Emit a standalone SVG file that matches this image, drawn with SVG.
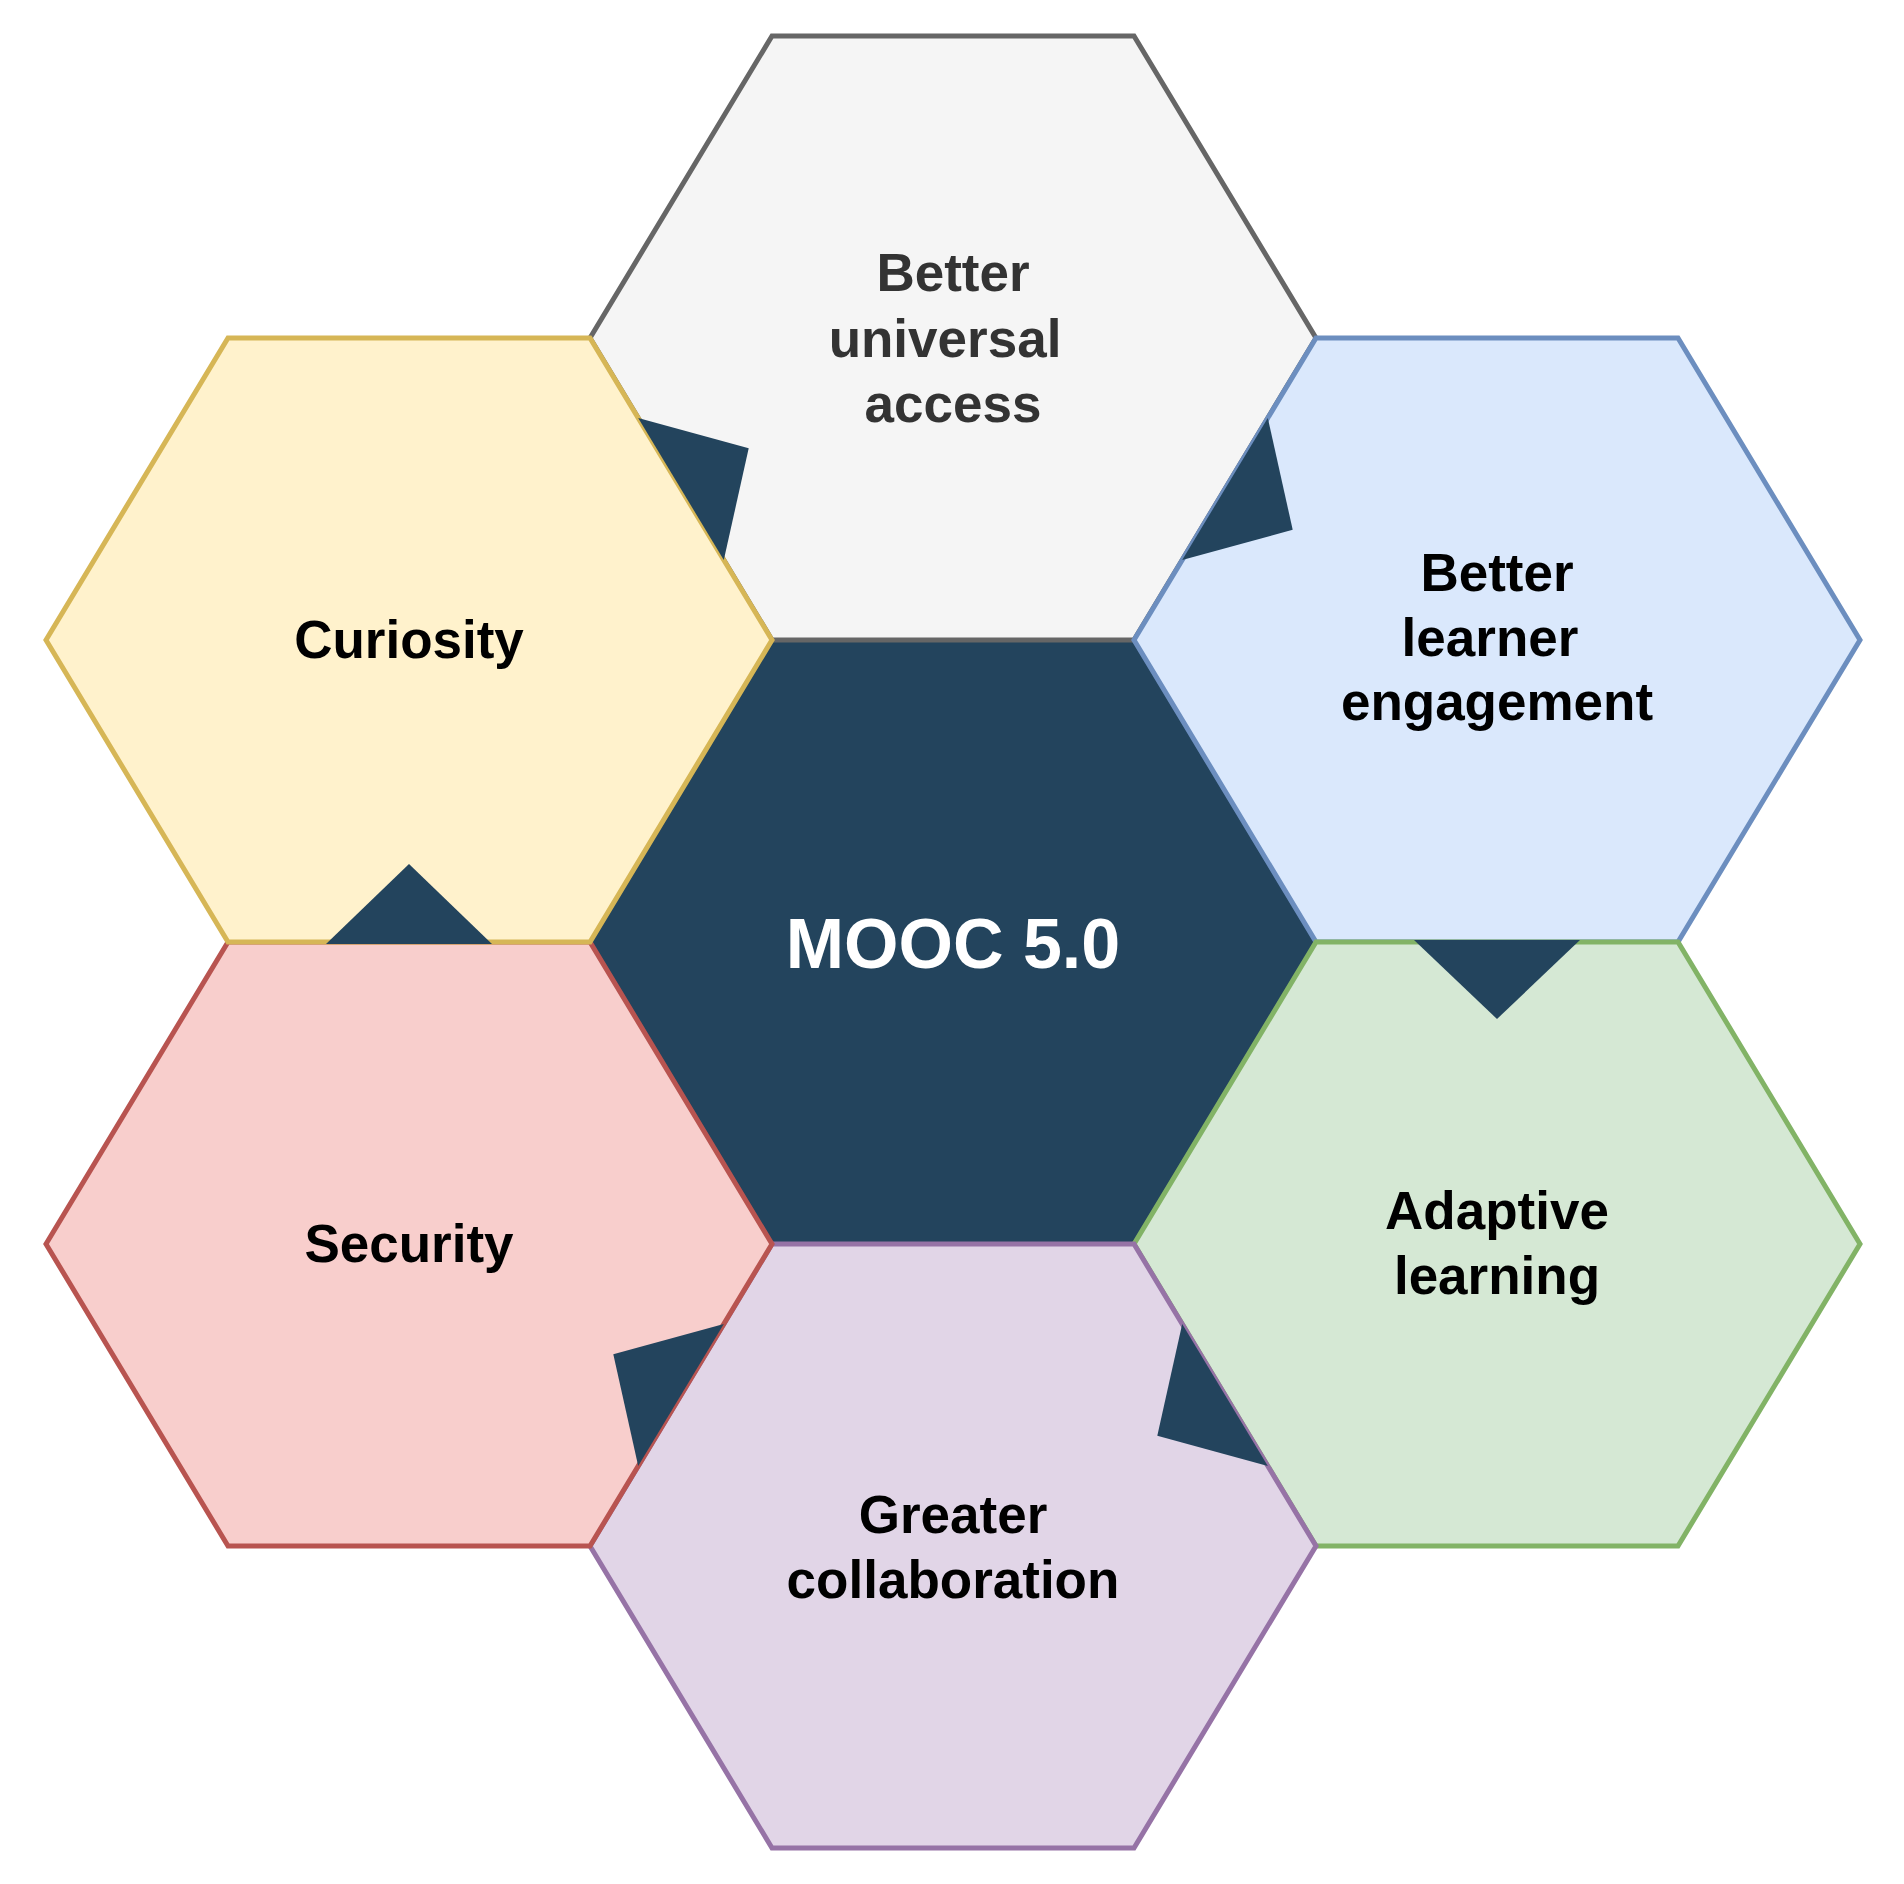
<svg xmlns="http://www.w3.org/2000/svg" width="1904" height="1884" viewBox="0 0 1904 1884">
<style>
.hex{stroke-width:5;stroke-linejoin:miter}
.lbl{font-family:"Liberation Sans",Arial,Helvetica,sans-serif;font-weight:bold;font-size:53px;text-anchor:middle;fill:#000000}
.arrow{fill:#23445d;stroke:none}
</style>
<rect width="1904" height="1884" fill="#ffffff"/>
<g id="node-center">
<polygon points="590,942 772,640 1134,640 1316,942 1134,1244 772,1244" fill="#23445d" stroke="#23445d" class="hex"/>
<text x="953" y="968" class="lbl" style="font-size:70px;fill:#ffffff">MOOC 5.0</text>
</g>
<g id="node-access">
<polygon points="590,338 772,36 1134,36 1316,338 1134,640 772,640" fill="#f5f5f5" stroke="#666666" class="hex"/>
<text class="lbl" style="fill:#333333"><tspan x="953" y="291">Better</tspan><tspan x="945" y="357">universal</tspan><tspan x="953" y="422">access</tspan></text>
</g>
<g id="node-engagement">
<polygon points="1134,640 1316,338 1678,338 1860,640 1678,942 1316,942" fill="#dae8fc" stroke="#6c8ebf" class="hex"/>
<text class="lbl"><tspan x="1497" y="591">Better</tspan><tspan x="1490" y="656">learner</tspan><tspan x="1497" y="720">engagement</tspan></text>
</g>
<g id="node-adaptive">
<polygon points="1134,1244 1316,942 1678,942 1860,1244 1678,1546 1316,1546" fill="#d5e8d4" stroke="#82b366" class="hex"/>
<text class="lbl"><tspan x="1497" y="1229">Adaptive</tspan><tspan x="1497" y="1294">learning</tspan></text>
</g>
<g id="node-collaboration">
<polygon points="590,1546 772,1244 1134,1244 1316,1546 1134,1848 772,1848" fill="#e1d5e7" stroke="#9673a6" class="hex"/>
<text class="lbl"><tspan x="953" y="1533">Greater</tspan><tspan x="953" y="1598">collaboration</tspan></text>
</g>
<g id="node-security">
<polygon points="46,1244 228,942 590,942 772,1244 590,1546 228,1546" fill="#f8cecc" stroke="#b85450" class="hex"/>
<text x="409" y="1262" class="lbl">Security</text>
</g>
<g id="node-curiosity">
<polygon points="46,640 228,338 590,338 772,640 590,942 228,942" fill="#fff2cc" stroke="#d6b656" class="hex"/>
<text x="409" y="658" class="lbl">Curiosity</text>
</g>
<g id="connectors">
<polygon class="arrow" points="1267.8,417.9 1182.2,560.1 1292.7,529.8"/>
<polygon class="arrow" points="1414,940 1580,940 1497,1019"/>
<polygon class="arrow" points="1182.2,1323.9 1267.8,1466.1 1157.3,1435.8"/>
<polygon class="arrow" points="723.8,1323.9 638.2,1466.1 613.3,1354.2"/>
<polygon class="arrow" points="326,944 492,944 409,864"/>
<polygon class="arrow" points="638.2,417.9 723.8,560.1 748.7,448.2"/>
</g>
</svg>
